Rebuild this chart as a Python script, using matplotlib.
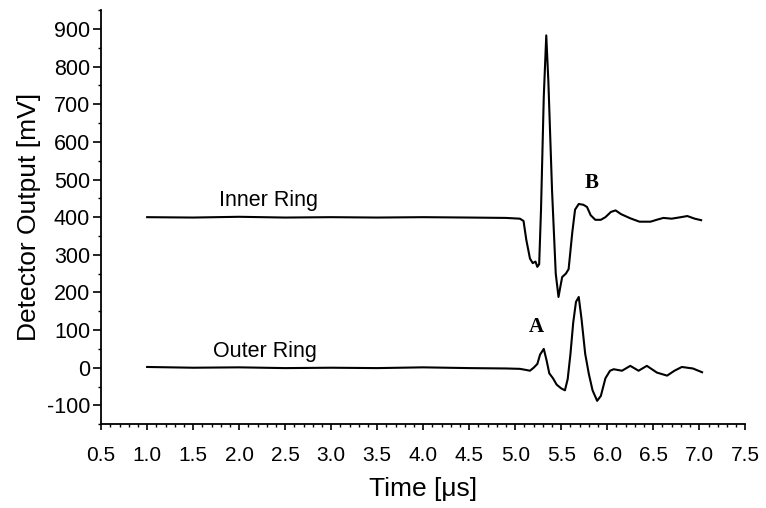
import matplotlib
matplotlib.use("Agg")
import matplotlib.pyplot as plt
from matplotlib.ticker import MultipleLocator, FormatStrFormatter

# Inner ring trace (time in microseconds, output in mV)
inner_t = [1.0, 1.5, 2.0, 2.5, 3.0, 3.5, 4.0, 4.5, 4.9, 5.05, 5.09, 5.12, 5.16, 5.19, 5.22,
           5.24, 5.26, 5.28, 5.31, 5.337, 5.36, 5.40, 5.44, 5.47, 5.49, 5.51, 5.55, 5.58,
           5.62, 5.65, 5.69, 5.74, 5.78, 5.82, 5.87, 5.93, 5.98, 6.04, 6.09, 6.15, 6.25,
           6.35, 6.47, 6.55, 6.61, 6.70, 6.80, 6.87, 6.95, 7.02]
inner_v = [400, 399, 401, 399, 400, 399, 400, 399, 398, 396, 390, 340, 290, 278, 282,
           268, 275, 420, 720, 883, 760, 470, 250, 188, 215, 241, 250, 262,
           360, 420, 435, 433, 427, 405, 393, 393, 400, 414, 418, 408, 397,
           388, 388, 394, 398, 396, 400, 403, 396, 392]

# Outer ring trace
outer_t = [1.0, 1.5, 2.0, 2.5, 3.0, 3.5, 4.0, 4.5, 4.9, 5.05, 5.12, 5.16, 5.20, 5.24,
           5.27, 5.31, 5.34, 5.37, 5.41, 5.45, 5.50, 5.54, 5.57, 5.60, 5.63, 5.66, 5.69,
           5.72, 5.76, 5.80, 5.84, 5.89, 5.93, 5.98, 6.03, 6.07, 6.16, 6.25, 6.34, 6.43,
           6.54, 6.65, 6.73, 6.81, 6.93, 7.03]
outer_v = [2, 0, 1, -1, 0, -1, 1, -1, -2, -3, -6, -8, 0, 10,
           35, 50, 20, -15, -28, -45, -55, -60, -30, 37, 120, 175, 188,
           130, 37, -17, -60, -88, -75, -28, -8, -4, -8, 5, -8, 5,
           -13, -21, -8, 2, -2, -12]

xticks = [0.5, 1.0, 1.5, 2.0, 2.5, 3.0, 3.5, 4.0, 4.5, 5.0, 5.5, 6.0, 6.5, 7.0, 7.5]
yticks = [-100, 0, 100, 200, 300, 400, 500, 600, 700, 800, 900]

plt.rcParams['font.family'] = ['Liberation Sans', 'DejaVu Sans']
plt.rcParams['axes.unicode_minus'] = False

fig = plt.figure(figsize=(7.66, 5.08), dpi=100)
ax = fig.add_axes([0.132, 0.165, 0.841, 0.815])

ax.plot(inner_t, inner_v, color='black', lw=1.5)
ax.plot(outer_t, outer_v, color='black', lw=1.5)

ax.set_xlim(0.5, 7.5)
ax.set_ylim(-150, 950)
ax.set_xticks(xticks)
ax.set_yticks(yticks)
ax.xaxis.set_major_formatter(FormatStrFormatter('%.1f'))
ax.xaxis.set_minor_locator(MultipleLocator(0.1))
ax.yaxis.set_minor_locator(MultipleLocator(50))

for s in ['top', 'right']:
    ax.spines[s].set_visible(False)
for s in ['left', 'bottom']:
    ax.spines[s].set_linewidth(1.3)

ax.tick_params(axis='both', which='minor', length=2.5, width=1.0, direction='out')
ax.tick_params(axis='y', which='major', length=5.5, width=1.2, direction='out', labelsize=15.5, pad=2.5)
ax.tick_params(axis='x', which='major', length=4.5, width=1.2, direction='out', labelsize=15, pad=11.5)

ax.set_xlabel('Time [\u03bcs]', fontsize=19, labelpad=8)
ax.set_ylabel('Detector Output [mV]', fontsize=19, labelpad=4)

ax.text(2.32, 445, 'Inner Ring', fontsize=15.5, ha='center', va='center')
ax.text(2.28, 42, 'Outer Ring', fontsize=15.5, ha='center', va='center')
ax.text(5.23, 107, 'A', fontsize=15, fontweight='bold', family='Liberation Serif', ha='center', va='center')
ax.text(5.83, 491, 'B', fontsize=15, fontweight='bold', family='Liberation Serif', ha='center', va='center')

fig.savefig('out.png', dpi=100)
